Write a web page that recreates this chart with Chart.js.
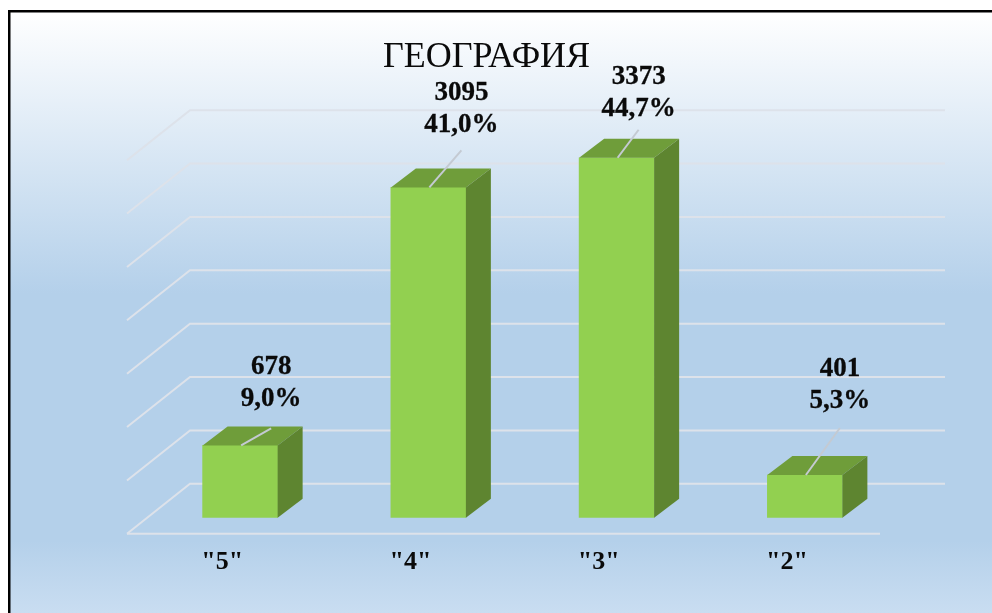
<!DOCTYPE html>
<html lang="ru">
<head>
<meta charset="utf-8">
<title>География</title>
<script src="https://cdn.jsdelivr.net/npm/chart.js@4/dist/chart.umd.min.js"></script>
<style>
html,body{margin:0;padding:0;background:#fff;overflow:hidden}
#wrap{position:absolute;left:0;top:0;width:992px;height:613px}
canvas{display:block}
</style>
</head>
<body>
<div id="wrap"><canvas id="c" width="992" height="613"></canvas></div>
<script>
const chartTitle = 'ГЕОГРАФИЯ';
const categories = ['"5"', '"4"', '"3"', '"2"'];
const counts = [678, 3095, 3373, 401];
const percents = ['9,0%', '41,0%', '44,7%', '5,3%'];

// label placement relative to the top-front of each bar (dx, first-line rise, leader rise)
const labelDx = [31, 33, 22, 35];
const labelRise = [78, 94, 81, 106];
const leaderRise = [17, 37, 28, 47];

const SERIF = '"Liberation Serif", "Times New Roman", serif';
const DEPTH_X = 25, DEPTH_Y = 19;

const scene3d = {
  id: 'scene3d',
  afterLayout(chart) {
    const t = chart.titleBlock;
    t.left -= 36; t.right -= 36;
  },
  beforeDraw(chart) {
    const {ctx, width, height} = chart;
    ctx.save();
    const g = ctx.createLinearGradient(0, 10, 0, height);
    g.addColorStop(0, '#ffffff');
    g.addColorStop(0.47, '#b4d0ea');
    g.addColorStop(0.88, '#b4d0ea');
    g.addColorStop(1, '#c9ddf1');
    ctx.fillStyle = g;
    ctx.fillRect(8, 10, width - 8, height - 10);
    ctx.fillStyle = '#000';
    ctx.fillRect(8, 10, width - 8, 2.5);
    ctx.fillRect(8, 10, 2.5, height - 10);
    ctx.restore();
  },
  beforeDatasetsDraw(chart) {
    const {ctx, scales: {x, y}} = chart;
    const base = y.getPixelForValue(0);
    ctx.save();
    ctx.strokeStyle = '#dde2ea';
    ctx.lineWidth = 2;
    ctx.lineJoin = 'miter';
    y.ticks.forEach(t => {
      const py = y.getPixelForValue(t.value) - 34;
      ctx.beginPath();
      ctx.moveTo(x.left - 19, py + 50);
      ctx.lineTo(x.left + 44, py);
      ctx.lineTo(x.right + 46, py);
      ctx.stroke();
    });
    ctx.beginPath();
    ctx.moveTo(x.left - 19, base + 16);
    ctx.lineTo(x.right - 19, base + 16);
    ctx.stroke();
    ctx.restore();
  },
  afterDatasetsDraw(chart) {
    const {ctx} = chart;
    const bars = chart.getDatasetMeta(0).data;
    ctx.save();
    bars.forEach((b, i) => {
      const half = b.width / 2, l = b.x - half, r = b.x + half, top = b.y, bot = b.base;
      ctx.fillStyle = '#6f9d3a';
      ctx.beginPath();
      ctx.moveTo(l, top); ctx.lineTo(l + DEPTH_X, top - DEPTH_Y);
      ctx.lineTo(r + DEPTH_X, top - DEPTH_Y); ctx.lineTo(r, top);
      ctx.closePath(); ctx.fill();
      ctx.fillStyle = '#5e8530';
      ctx.beginPath();
      ctx.moveTo(r, top); ctx.lineTo(r + DEPTH_X, top - DEPTH_Y);
      ctx.lineTo(r + DEPTH_X, bot - DEPTH_Y); ctx.lineTo(r, bot);
      ctx.closePath(); ctx.fill();

      ctx.strokeStyle = '#c4cad2';
      ctx.lineWidth = 2;
      ctx.beginPath();
      ctx.moveTo(b.x + 1, top);
      ctx.lineTo(b.x + labelDx[i], top - leaderRise[i]);
      ctx.stroke();

      ctx.fillStyle = '#0a0a0a';
      ctx.strokeStyle = '#0a0a0a';
      ctx.lineWidth = 0.3;
      ctx.font = 'bold 27px ' + SERIF;
      ctx.textAlign = 'center';
      ctx.textBaseline = 'middle';
      const tx = b.x + labelDx[i], ty = top - labelRise[i];
      ctx.fillText(String(counts[i]), tx, ty);
      ctx.strokeText(String(counts[i]), tx, ty);
      ctx.fillText(percents[i], tx, ty + 32);
      ctx.strokeText(percents[i], tx, ty + 32);
    });
    ctx.restore();
  }
};

new Chart(document.getElementById('c'), {
  type: 'bar',
  data: {
    labels: categories,
    datasets: [{
      data: counts,
      backgroundColor: '#92d050',
      borderWidth: 0,
      barThickness: 75
    }]
  },
  options: {
    responsive: false,
    animation: false,
    events: [],
    layout: {padding: {left: 146, right: 93, top: 0, bottom: 14}},
    plugins: {
      legend: {display: false},
      tooltip: {enabled: false},
      title: {
        display: true,
        text: chartTitle,
        color: '#0a0a0a',
        font: {family: SERIF, size: 36, weight: 'normal', lineHeight: 1.2},
        padding: {top: 36, bottom: 65}
      }
    },
    scales: {
      x: {
        grid: {display: false},
        border: {display: false},
        ticks: {
          color: '#0a0a0a',
          font: {family: SERIF, size: 26, weight: 'bold', lineHeight: 1.2},
          padding: 21,
          labelOffset: -18,
          maxRotation: 0,
          autoSkip: false
        }
      },
      y: {
        display: false,
        min: 0,
        max: 3500,
        ticks: {stepSize: 500}
      }
    }
  },
  plugins: [scene3d]
});
</script>
</body>
</html>
